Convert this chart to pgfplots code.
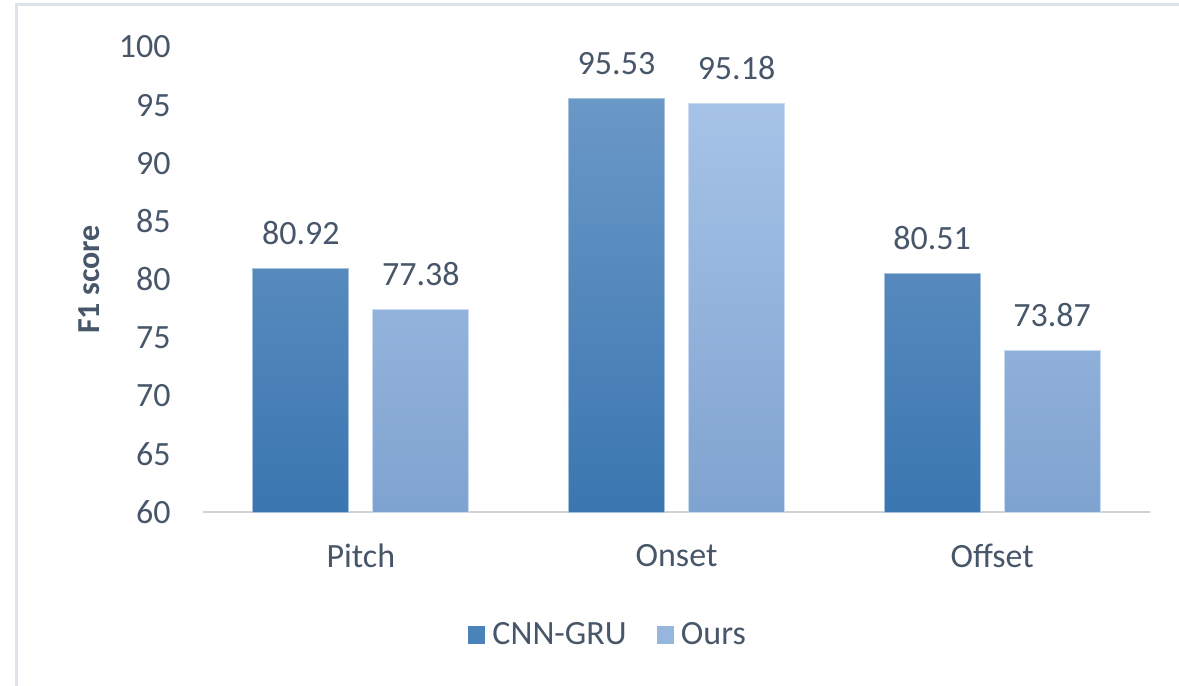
\documentclass[border=0pt]{standalone}
\usepackage{pgfplots}
\pgfplotsset{compat=1.18}
\usepackage{pgfplotstable}
\usepackage{fontspec}
\setmainfont{Carlito}
\definecolor{txt}{RGB}{72,86,106}
\definecolor{cnnT}{RGB}{106,152,199}
\definecolor{cnnB}{RGB}{58,118,176}
\definecolor{ourT}{RGB}{166,195,231}
\definecolor{ourB}{RGB}{127,163,208}
\definecolor{cnnL}{RGB}{74,130,186}
\definecolor{ourL}{RGB}{150,182,222}
\definecolor{framec}{RGB}{220,227,235}
\pgfplotstableread{
x v
0 80.92
1 95.53
2 80.51
}\cnn
\pgfplotstableread{
x v
0 77.38
1 95.18
2 73.87
}\ours
\newcommand{\legsq}[1]{%
  \pgfpathrectangle{\pgfpoint{0bp}{-4.3bp}}{\pgfpoint{8.6bp}{8.6bp}}%
  \pgfsetfillcolor{#1}\pgfusepath{fill}%
  \pgfpathmoveto{\pgfpoint{0bp}{0bp}}\pgfpathlineto{\pgfpoint{10.2bp}{0bp}}\pgfusepath{}%
}
\begin{document}
\begin{tikzpicture}
\path[use as bounding box] (0,0) rectangle (589.5bp,-343bp);
\draw[framec, line width=1.2bp] (8.25bp,-343bp) -- (8.25bp,-2.25bp) -- (589.5bp,-2.25bp);
\begin{axis}[
  at={(101.5bp,-256bp)}, anchor=south west,
  scale only axis, width=473.5bp, height=232.5bp,
  xmin=-0.5, xmax=2.5, ymin=0, ymax=40,
  ybar=12bp, bar width=48bp,
  axis lines*=left,
  y axis line style={draw=none},
  x axis line style={draw=black!18, line width=0.8bp, -},
  major tick length=0,
  xtick={0,1,2}, xticklabels={Pitch,Onset,Offset},
  ytick={0,5,...,40}, yticklabels={60,65,70,75,80,85,90,95,100},
  tick label style={font=\fontsize{17bp}{20bp}\selectfont, text=txt},
  yticklabel style={anchor=east, inner sep=0pt, xshift=-16bp},
  xticklabel style={anchor=center, inner sep=0pt, yshift=-22bp},
  ylabel={F1 score},
  every axis y label/.style={at={(axis description cs:-0.1204,0.5)}, anchor=center, rotate=90, font=\bfseries\fontsize{16bp}{19bp}\selectfont, text=txt},
  /pgf/number format/assume math mode=true,
  nodes near coords={\pgfmathprintnumber[fixed,fixed zerofill,precision=2]{\pgfplotspointmeta}},
  every node near coord/.append style={anchor=base, inner sep=0pt, yshift=12bp, font=\fontsize{17bp}{20bp}\selectfont, text=txt},
  point meta=explicit,
  legend columns=2,
  legend style={at={(0.4287,-0.2645)}, anchor=center, draw=none, fill=none, font=\fontsize{17bp}{20bp}\selectfont, text=txt, /tikz/every even column/.append style={column sep=13bp}},
]
\addplot[draw=cnnT!60!white, line width=0.5bp, top color=cnnT, bottom color=cnnB,
  legend image code/.code={\legsq{cnnL}}]
  table[x=x, y expr=\thisrow{v}-60, meta=v] {\cnn};
\addplot[draw=ourT!60!white, line width=0.5bp, top color=ourT, bottom color=ourB,
  legend image code/.code={\legsq{ourL}}]
  table[x=x, y expr=\thisrow{v}-60, meta=v] {\ours};
\legend{CNN-GRU, Ours}
\end{axis}
\end{tikzpicture}
\end{document}
